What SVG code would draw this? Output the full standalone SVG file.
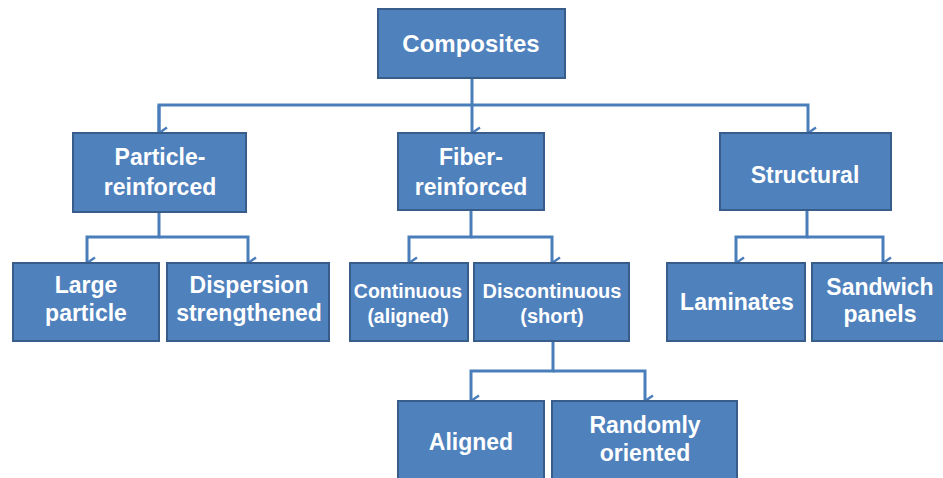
<svg xmlns="http://www.w3.org/2000/svg" width="943" height="478" viewBox="0 0 943 478">
<style>
.box{fill:#4f81bd;stroke:#385d8a;stroke-width:2}
.t{fill:#fff;font-family:"Liberation Sans",Arial,sans-serif;font-weight:bold;font-size:23px;text-anchor:middle}
.s{font-size:19.5px}
.m{font-size:20px}
.c{fill:none;stroke:#4a7ebb;stroke-width:3}
</style>
<defs>
<marker id="ar" viewBox="0 0 14 11" refX="7" refY="10" markerWidth="14" markerHeight="11" markerUnits="userSpaceOnUse" orient="auto-start-reverse">
<polyline points="1.5,2 7,10 12.5,2" fill="none" stroke="#4a7ebb" stroke-width="2.5"/>
</marker>
</defs>
<rect width="943" height="478" fill="#fff"/>
<g id="connectors" class="c">
<path d="M472 78V133" marker-end="url(#ar)"/>
<path d="M159 133V105H808V133" marker-end="url(#ar)"/>
<path d="M159 105V133" marker-end="url(#ar)"/>
<path d="M159 212V237H87V263" marker-end="url(#ar)"/>
<path d="M159 237H248V263" marker-end="url(#ar)"/>
<path d="M471 210V237H409V263" marker-end="url(#ar)"/>
<path d="M471 237H552V263" marker-end="url(#ar)"/>
<path d="M807 210V237H736V263" marker-end="url(#ar)"/>
<path d="M807 237H883V263" marker-end="url(#ar)"/>
<path d="M553 341V371H471V401" marker-end="url(#ar)"/>
<path d="M553 371H645V401" marker-end="url(#ar)"/>
</g>
<g id="composites"><rect class="box" x="378" y="9" width="187" height="69"/><text class="t" x="471" y="52" style="font-size:24px">Composites</text></g>
<g id="particle"><rect class="box" x="73" y="133" width="173" height="79"/><text class="t" x="160" y="165">Particle-</text><text class="t" x="160" y="195">reinforced</text></g>
<g id="fiber"><rect class="box" x="398" y="133" width="146" height="77"/><text class="t" x="471" y="165">Fiber-</text><text class="t" x="471" y="195">reinforced</text></g>
<g id="structural"><rect class="box" x="720" y="133" width="171" height="77"/><text class="t" x="805" y="183">Structural</text></g>
<g id="large"><rect class="box" x="13" y="263" width="146" height="78"/><text class="t" x="86" y="293">Large</text><text class="t" x="86" y="321">particle</text></g>
<g id="dispersion"><rect class="box" x="167" y="263" width="162" height="78"/><text class="t" x="249" y="293">Dispersion</text><text class="t" x="249" y="321">strengthened</text></g>
<g id="continuous"><rect class="box" x="350" y="263" width="118" height="78"/><text class="t s" x="408" y="298">Continuous</text><text class="t s" x="408" y="323">(aligned)</text></g>
<g id="discontinuous"><rect class="box" x="474" y="263" width="155" height="78"/><text class="t m" x="552" y="298">Discontinuous</text><text class="t m" x="552" y="323">(short)</text></g>
<g id="laminates"><rect class="box" x="667" y="263" width="138" height="78"/><text class="t" x="737" y="310">Laminates</text></g>
<g id="sandwich"><rect class="box" x="812" y="263" width="136" height="78"/><text class="t" x="880" y="295">Sandwich</text><text class="t" x="880" y="322">panels</text></g>
<g id="aligned"><rect class="box" x="398" y="401" width="146" height="82"/><text class="t" x="471" y="450">Aligned</text></g>
<g id="random"><rect class="box" x="552" y="401" width="185" height="82"/><text class="t" x="645" y="433">Randomly</text><text class="t" x="645" y="461">oriented</text></g>
</svg>
